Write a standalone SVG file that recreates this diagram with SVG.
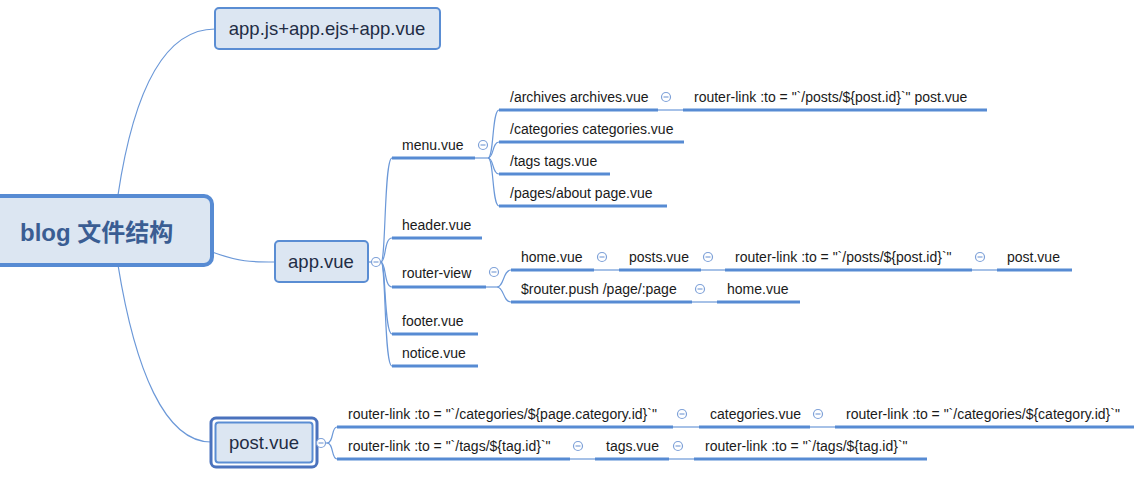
<svg xmlns="http://www.w3.org/2000/svg" width="1134" height="481" viewBox="0 0 1134 481">
<style>
.bg{fill:#ffffff}
.box{fill:#dce6f2;stroke:#5a8dd3;stroke-width:2}
.conn{fill:none;stroke:#6b98d8;stroke-width:1.2}
.ul{fill:none;stroke:#578bd3;stroke-width:3}
.t{font-family:"Liberation Sans",Arial,sans-serif;font-size:14px;fill:#1a1a1a}
.bt{font-family:"Liberation Sans",Arial,sans-serif;font-size:18.5px;fill:#1f2d45;text-anchor:middle}
.root{font-family:"Liberation Sans","Noto Sans CJK SC",sans-serif;font-size:24px;font-weight:bold;fill:#3a5d93}
</style>
<defs>
<g id="minus"><circle r="4.5" fill="#ffffff" stroke="#7ea1d8" stroke-width="1.2"/><line x1="-2.5" y1="0" x2="2.5" y2="0" stroke="#7ea1d8" stroke-width="1.2"/></g>
</defs>
<rect class="bg" width="1134" height="481"/>
<g id="connectors">
<path class="conn" d="M118,195 C133,95 163,29 215,29"/>
<path class="conn" d="M212,252 C240,262 250,262 275,262"/>
<path class="conn" d="M118,265 C135,370 165,442 211,442"/>
<path class="conn" d="M368,262 L381,262"/>
<path class="conn" d="M381,262 C386,262 384,158 392,158"/>
<path class="conn" d="M381,262 C386,262 384,238 392,238"/>
<path class="conn" d="M381,262 C386,262 384,287 392,287"/>
<path class="conn" d="M381,262 C386,262 384,334 392,334"/>
<path class="conn" d="M381,262 C386,262 384,366 392,366"/>
<path class="conn" d="M475,158 L488,158"/>
<path class="conn" d="M488,158 C494,158 492,110 499,110"/>
<path class="conn" d="M488,158 C494,158 492,142 499,142"/>
<path class="conn" d="M488,158 C494,158 492,174 499,174"/>
<path class="conn" d="M488,158 C494,158 492,206 499,206"/>
<path class="conn" d="M658,110 L683,110"/>
<path class="conn" d="M486,287 L497,287"/>
<path class="conn" d="M497,287 C504,287 503,270 511,270"/>
<path class="conn" d="M497,287 C504,287 503,302 511,302"/>
<path class="conn" d="M594,270 L619,270"/>
<path class="conn" d="M701,270 L725,270"/>
<path class="conn" d="M972,270 L997,270"/>
<path class="conn" d="M692,302 L717,302"/>
<path class="conn" d="M318,443 L327,443"/>
<path class="conn" d="M327,443 C334,443 331,427 337,427"/>
<path class="conn" d="M327,443 C334,443 331,459 337,459"/>
<path class="conn" d="M673,427 L699,427"/>
<path class="conn" d="M810,427 L835,427"/>
<path class="conn" d="M570,459 L595,459"/>
<path class="conn" d="M669,459 L694,459"/>
</g>
<g id="root">
<rect x="-12" y="196" width="224" height="69" rx="8" fill="#dce6f2" stroke="#578bd3" stroke-width="4"/>
<text class="root" x="20" y="241">blog 文件结构</text>
</g>
<g id="app-js">
<rect class="box" x="215" y="8" width="225" height="41" rx="4"/>
<text class="bt" x="327" y="35">app.js+app.ejs+app.vue</text>
</g>
<g id="app-vue">
<rect class="box" x="275" y="241" width="93" height="41" rx="4"/>
<text class="bt" x="321" y="268">app.vue</text>
<use href="#minus" x="376" y="262"/>
</g>
<g id="post-vue">
<rect x="211" y="418" width="106" height="49" rx="5" fill="none" stroke="#4a72bd" stroke-width="3"/>
<rect class="box" x="215.5" y="422.5" width="97" height="40" rx="3"/>
<text class="bt" x="264" y="449">post.vue</text>
<use href="#minus" x="321" y="443"/>
</g>
<g id="menu-vue">
<line class="ul" x1="392" y1="158" x2="475" y2="158"/>
<text class="t" x="402" y="150">menu.vue</text>
<use href="#minus" x="483" y="145"/>
</g>
<g id="archives">
<line class="ul" x1="499" y1="110" x2="658" y2="110"/>
<text class="t" x="510" y="102">/archives archives.vue</text>
<use href="#minus" x="666" y="97"/>
</g>
<g id="archives-link">
<line class="ul" x1="683" y1="110" x2="987" y2="110"/>
<text class="t" x="694" y="102">router-link :to = "`/posts/${post.id}`" post.vue</text>
</g>
<g id="categories">
<line class="ul" x1="499" y1="142" x2="684" y2="142"/>
<text class="t" x="510" y="134">/categories categories.vue</text>
</g>
<g id="tags">
<line class="ul" x1="499" y1="174" x2="610" y2="174"/>
<text class="t" x="510" y="166">/tags tags.vue</text>
</g>
<g id="pages">
<line class="ul" x1="499" y1="206" x2="667" y2="206"/>
<text class="t" x="510" y="198">/pages/about page.vue</text>
</g>
<g id="header-vue">
<line class="ul" x1="392" y1="238" x2="482" y2="238"/>
<text class="t" x="402" y="230">header.vue</text>
</g>
<g id="router-view">
<line class="ul" x1="392" y1="287" x2="486" y2="287"/>
<text class="t" x="402" y="278">router-view</text>
<use href="#minus" x="494" y="272"/>
</g>
<g id="home-vue">
<line class="ul" x1="511" y1="270" x2="594" y2="270"/>
<text class="t" x="521" y="262">home.vue</text>
<use href="#minus" x="602" y="257"/>
</g>
<g id="posts-vue">
<line class="ul" x1="619" y1="270" x2="701" y2="270"/>
<text class="t" x="629" y="262">posts.vue</text>
<use href="#minus" x="708" y="257"/>
</g>
<g id="posts-link">
<line class="ul" x1="725" y1="270" x2="972" y2="270"/>
<text class="t" x="735" y="262">router-link :to = "`/posts/${post.id}`"</text>
<use href="#minus" x="980" y="257"/>
</g>
<g id="post-vue-2">
<line class="ul" x1="997" y1="270" x2="1072" y2="270"/>
<text class="t" x="1007" y="262">post.vue</text>
</g>
<g id="router-push">
<line class="ul" x1="511" y1="302" x2="692" y2="302"/>
<text class="t" x="521" y="294">$router.push /page/:page</text>
<use href="#minus" x="700" y="289"/>
</g>
<g id="home-vue-2">
<line class="ul" x1="717" y1="302" x2="800" y2="302"/>
<text class="t" x="727" y="294">home.vue</text>
</g>
<g id="footer-vue">
<line class="ul" x1="392" y1="334" x2="478" y2="334"/>
<text class="t" x="402" y="326">footer.vue</text>
</g>
<g id="notice-vue">
<line class="ul" x1="392" y1="366" x2="478" y2="366"/>
<text class="t" x="402" y="358">notice.vue</text>
</g>
<g id="cat-link-1">
<line class="ul" x1="337" y1="427" x2="673" y2="427"/>
<text class="t" x="348" y="419">router-link :to = "`/categories/${page.category.id}`"</text>
<use href="#minus" x="682" y="414"/>
</g>
<g id="categories-vue">
<line class="ul" x1="699" y1="427" x2="810" y2="427"/>
<text class="t" x="710" y="419">categories.vue</text>
<use href="#minus" x="818" y="414"/>
</g>
<g id="cat-link-2">
<line class="ul" x1="835" y1="427" x2="1134" y2="427"/>
<text class="t" x="846" y="419">router-link :to = "`/categories/${category.id}`"</text>
</g>
<g id="tag-link-1">
<line class="ul" x1="337" y1="459" x2="570" y2="459"/>
<text class="t" x="348" y="451">router-link :to = "`/tags/${tag.id}`"</text>
<use href="#minus" x="578" y="446"/>
</g>
<g id="tags-vue">
<line class="ul" x1="595" y1="459" x2="669" y2="459"/>
<text class="t" x="606" y="451">tags.vue</text>
<use href="#minus" x="678" y="446"/>
</g>
<g id="tag-link-2">
<line class="ul" x1="694" y1="459" x2="927" y2="459"/>
<text class="t" x="705" y="451">router-link :to = "`/tags/${tag.id}`"</text>
</g>
</svg>
